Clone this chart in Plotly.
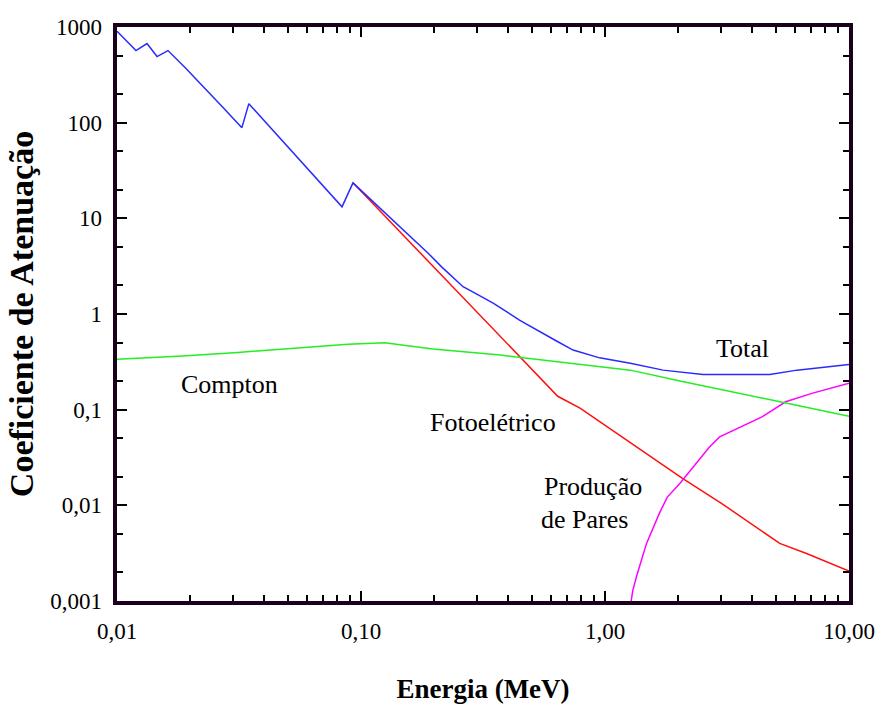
import plotly.graph_objects as go

# Energia (MeV) e coeficientes de atenuação de cada processo
total_e = [0.01, 0.0108, 0.01196, 0.01327, 0.01459, 0.01618, 0.019, 0.0272, 0.0325,
           0.0347, 0.0547, 0.0836, 0.0927, 0.112, 0.127, 0.1445, 0.166, 0.188, 0.214,
           0.242, 0.262, 0.297, 0.348, 0.446, 0.54, 0.63, 0.74, 0.84, 0.95, 1.27,
           1.73, 2.52, 4.74, 6.12, 8.36, 10.0]
total_v = [904, 740, 567, 672, 491, 567, 377, 144, 88.7,
           158, 44, 13.2, 23.5, 15.0, 11.1, 8.15, 5.86, 4.35, 3.11,
           2.32, 1.93, 1.62, 1.30, 0.865, 0.653, 0.525, 0.42, 0.381, 0.348, 0.305,
           0.259, 0.233, 0.233, 0.259, 0.281, 0.297]

foto_e = [0.0927, 0.224, 0.338, 0.64, 0.79, 1.07, 2.07, 3.0, 5.2, 6.7, 10.0]
foto_v = [23.5, 2.27, 0.748, 0.138, 0.104, 0.061, 0.0192, 0.0105, 0.0040, 0.00314, 0.00205]

compton_e = [0.01, 0.0186, 0.0313, 0.0526, 0.0885, 0.125, 0.197, 0.372, 0.79,
             1.27, 2.03, 3.25, 5.21, 10.0]
compton_v = [0.337, 0.363, 0.397, 0.437, 0.482, 0.50, 0.43, 0.372, 0.296,
             0.259, 0.199, 0.154, 0.121, 0.0855]

pares_e = [1.28, 1.30, 1.35, 1.48, 1.67, 1.80, 2.03, 2.37, 2.68, 2.95, 3.5,
           4.4, 5.5, 7.1, 10.0]
pares_v = [0.001, 0.00129, 0.00185, 0.0040, 0.00824, 0.0122, 0.0170, 0.0275,
           0.0408, 0.0519, 0.064, 0.084, 0.121, 0.149, 0.189]

SERIF = "Times New Roman, Liberation Serif, DejaVu Serif, serif"
FRAME = "#1a001a"

fig = go.Figure()
# (x, y, cor, nome, eixos): Compton fica nos eixos de rótulos sobrepostos
series = [
    (compton_e, compton_v, "#22ee22", "Compton", ("x2", "y2")),
    (foto_e, foto_v, "#ff1010", "Fotoelétrico", ("x", "y")),
    (pares_e, pares_v, "#ff00ff", "Produção de Pares", ("x", "y")),
    (total_e, total_v, "#2a2aff", "Total", ("x", "y")),
]
for xs, ys, color, name, (xa, ya) in series:
    fig.add_trace(go.Scatter(x=xs, y=ys, mode="lines", name=name, xaxis=xa, yaxis=ya,
                             line=dict(color=color, width=1.5), showlegend=False))

# Rótulos das curvas (coordenadas em log10)
labels = [
    ("Total", 0.5615, -0.356, "center"),
    ("Compton", -1.537, -0.733, "center"),
    ("Fotoelétrico", -0.459, -1.131, "center"),
    ("Produção", -0.260, -1.801, "left"),
    ("de Pares", -0.272, -2.147, "left"),
]
for text, lx, ly, anchor in labels:
    fig.add_annotation(x=lx, y=ly, xref="x", yref="y", text=text, showarrow=False,
                       xanchor=anchor, yanchor="middle",
                       font=dict(family=SERIF, size=26, color="black"))

X_RANGE = [-2, 1]
Y_RANGE = [-3, 3]

# Eixos principais: moldura e marcas internas, sem rótulos
frame_axis = dict(
    showline=True, linewidth=4, linecolor=FRAME, mirror="ticks",
    ticks="inside", ticklen=10, tickwidth=2, tickcolor="black",
    showgrid=False, zeroline=False, tickmode="linear", tick0=0, dtick=1,
    showticklabels=False, automargin=False,
)
# Eixos sobrepostos: apenas os rótulos numéricos
label_axis = dict(
    showline=False, ticks="", showgrid=False, zeroline=False,
    tickmode="linear", tick0=0, dtick=1, automargin=False,
    tickfont=dict(family=SERIF, size=23, color="black"),
)

fig.update_layout(
    xaxis=dict(type="log", range=X_RANGE,
               minor=dict(ticks="inside", ticklen=6, tickwidth=1.5,
                          tickcolor="black", dtick="D1", showgrid=False),
               **frame_axis),
    yaxis=dict(type="log", range=Y_RANGE,
               minor=dict(ticks="inside", ticklen=6, tickwidth=1.5,
                          tickcolor="black", dtick="D2", showgrid=False),
               **frame_axis),
    xaxis2=dict(type="log", range=X_RANGE, overlaying="x", side="bottom",
                anchor="y2", tickformat=".2f", ticklabelstandoff=14,
                title=dict(text="<b>Energia (MeV)</b>", standoff=36,
                           font=dict(family=SERIF, size=27, color="black")),
                **label_axis),
    yaxis2=dict(type="log", range=Y_RANGE, overlaying="y", side="left",
                anchor="x2", tickformat="~g", ticklabelstandoff=14,
                title=dict(text="<b>Coeficiente de Atenuação</b>", standoff=6,
                           font=dict(family=SERIF, size=34, color="black")),
                **label_axis),
    width=881, height=706,
    margin=dict(l=117, r=32, t=27, b=105),
    separators=",.",
    paper_bgcolor="white", plot_bgcolor="white",
)

fig.write_html("out.html")
